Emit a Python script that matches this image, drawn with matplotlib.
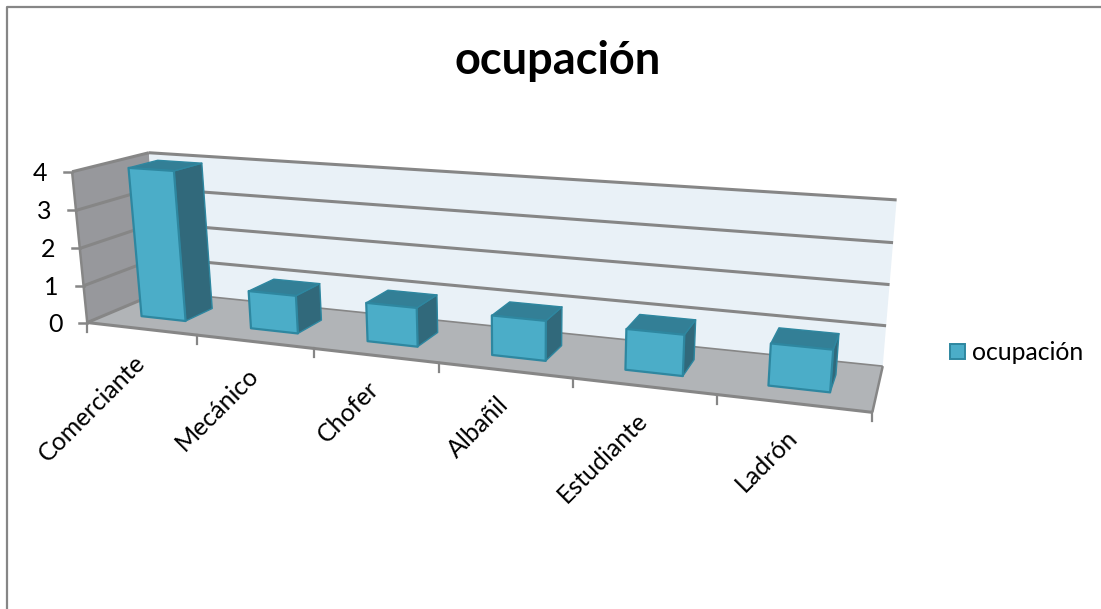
import numpy as np
import matplotlib
matplotlib.use("Agg")
import matplotlib.pyplot as plt
from matplotlib.patches import Polygon, Rectangle

TITLE = "ocupación"
categories = ["Comerciante", "Mecánico", "Chofer", "Albañil", "Estudiante", "Ladrón"]
values = [4, 1, 1, 1, 1, 1]
value_ticks = [0, 1, 2, 3, 4]

plt.rcParams['font.family'] = ['Lato', 'DejaVu Sans']
W, H = 1101, 609
fig = plt.figure(figsize=(W / 100, H / 100), dpi=100)
ax = fig.add_axes([0, 0, 1, 1])
ax.set_xlim(0, W)
ax.set_ylim(H, 0)
ax.axis("off")

# Perspective camera calibrated on the plot-box corners: (category, value, depth) -> pixel
n, vmax = len(categories), max(value_ticks)
calib = [((0, 0, 0), (86.7, 322.3)), ((0, vmax, 0), (72.7, 171.7)),
         ((0, vmax, 1), (148.3, 152.7)), ((0, 0, 1), (161, 292)),
         ((n, 0, 0), (872.3, 412.7)), ((n, 0, 1), (882.7, 365.7)),
         ((n, vmax, 1), (896.7, 200))]
A, b = [], []
for (X, Y, Z), (x, y) in calib:
    A.append([X, Y, Z, 1, 0, 0, 0, 0, -x * X, -x * Y, -x * Z]); b.append(x)
    A.append([0, 0, 0, 0, X, Y, Z, 1, -y * X, -y * Y, -y * Z]); b.append(y)
P = np.append(np.linalg.lstsq(np.array(A, float), np.array(b, float), rcond=None)[0], 1).reshape(3, 4)


def proj(u, v, w):
    p = P @ np.array([u, v, w, 1.0])
    return p[0] / p[2], p[1] / p[2]


def face(pts, fc, ec=None, lw=0, z=1):
    ax.add_patch(Polygon([proj(*q) for q in pts], closed=True, facecolor=fc,
                         edgecolor=ec if ec else fc, linewidth=lw, zorder=z, joinstyle="round"))


def line(a, b, lw=2.2, color="#868686", z=2):
    pa, pb = proj(*a), proj(*b)
    ax.plot([pa[0], pb[0]], [pa[1], pb[1]], color=color, lw=lw, zorder=z, solid_capstyle="butt")


# chart frame
ax.plot([7, 7, W], [H, 7, 7], color="#868686", lw=1.6, zorder=0)

# walls and floor
face([(0, 0, 0), (0, vmax, 0), (0, vmax, 1), (0, 0, 1)], "#97989C")
face([(0, 0, 1), (0, vmax, 1), (n, vmax, 1), (n, 0, 1)], "#E9F1F7")
face([(0, 0, 0), (0, 0, 1), (n, 0, 1), (n, 0, 0)], "#B1B4B7")

# grid lines
for v in value_ticks[1:]:
    line((0, v, 0), (0, v, 1))
    line((0, v, 1), (n, v, 1))
    x0, y0 = proj(0, v, 0)
    ax.plot([x0 - 8, x0], [y0, y0], color="#868686", lw=1.8, zorder=2)
line((0, 0, 0), (0, 0, 1))
line((0, 0, 1), (n, 0, 1), lw=1.2)
line((n, 0, 1), (n, 0, 0), lw=1.8)
line((0, 0, 0), (0, vmax, 0), lw=1.8)
line((0, 0, 0), (n, 0, 0), lw=2.2)
x0, y0 = proj(0, 0, 0)
ax.plot([x0 - 8, x0], [y0, y0], color="#868686", lw=1.8, zorder=2)
for i in range(n + 1):
    x, y = proj(i, 0, 0)
    ax.plot([x, x], [y, y + 9], color="#868686", lw=1.6, zorder=2)

# value labels
for v in value_ticks:
    x, y = proj(0, v, 0)
    ax.text(x - 32, y + 1.5, str(v), ha="center", va="center", fontsize=18, color="#000000")

# bars
BAR_W, W_FRONT, W_BACK = 0.41, 0.30, 0.69
FRONT, SIDE, TOP, EDGE = "#4BADC8", "#31697B", "#337F96", "#2E87A0"
for i, val in enumerate(values):
    u0, u1 = i + 0.5 - BAR_W / 2, i + 0.5 + BAR_W / 2
    z = 5 + i
    face([(u1, 0, W_FRONT), (u1, val, W_FRONT), (u1, val, W_BACK), (u1, 0, W_BACK)], SIDE, EDGE, 1.0, z)
    face([(u0, val, W_FRONT), (u0, val, W_BACK), (u1, val, W_BACK), (u1, val, W_FRONT)], TOP, EDGE, 1.0, z)
    face([(u0, 0, W_FRONT), (u0, val, W_FRONT), (u1, val, W_FRONT), (u1, 0, W_FRONT)], FRONT, EDGE, 1.6, z)

# category labels
for i, name in enumerate(categories):
    x, y = proj(i + 0.5, 0, 0)
    ax.text(x - 8, y + 22, name, rotation=45, rotation_mode="anchor", ha="right", va="top",
            fontsize=18, color="#000000", zorder=20)

# title
ax.text(558, 61, TITLE, ha="center", va="center", fontsize=32.5, fontweight="bold", color="#000000")

# legend
ax.add_patch(Rectangle((950, 344), 15, 15, facecolor=FRONT, edgecolor=EDGE, linewidth=1.4))
ax.text(972, 352, TITLE, ha="left", va="center", fontsize=17.8, color="#000000")

fig.savefig("out.png", dpi=100)
